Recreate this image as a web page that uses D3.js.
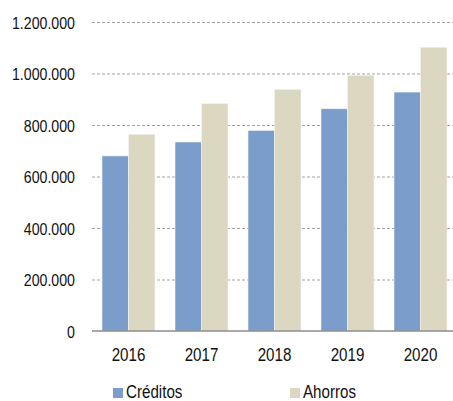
<!DOCTYPE html>
<html>
<head>
<meta charset="utf-8">
<script src="https://cdn.jsdelivr.net/npm/d3@7"></script>
<style>
  html, body { margin: 0; padding: 0; background: #fff; }
  svg { display: block; }
  text { font-family: "Liberation Sans", Arial, sans-serif; fill: #111; }
</style>
</head>
<body>
<svg id="chart" width="453" height="401"></svg>
<script>
// Annual totals per product
const years = ["2016", "2017", "2018", "2019", "2020"];
const seriesNames = ["Créditos", "Ahorros"];
const creditos = [680000, 734000, 779000, 863000, 928000];
const ahorros = [764000, 883000, 938000, 993000, 1102000];
const yTicks = [0, 200000, 400000, 600000, 800000, 1000000, 1200000];

const colors = { "Créditos": "#7b9dcb", "Ahorros": "#dcd7c1" };
const narrow = 0.82; // horizontal squeeze for a condensed look

const rows = years.map((y, i) => ({ year: y, "Créditos": creditos[i], "Ahorros": ahorros[i] }));

const svg = d3.select("#chart");
const plotLeft = 92, plotRight = 457, plotTop = 22, plotBottom = 331;

const x = d3.scaleBand().domain(years).range([plotLeft, plotRight])
  .paddingInner(20 / 73).paddingOuter(10 / 73);
const xs = d3.scaleBand().domain(seriesNames).range([0, x.bandwidth()]).padding(0);
const y = d3.scaleLinear().domain([0, 1200000]).range([plotBottom, plotTop]);

const es = d3.formatLocale({ decimal: ",", thousands: ".", grouping: [3], currency: ["", ""] });
const fmt = es.format(",d");

// Dashed horizontal gridlines and value labels
const yAxis = svg.append("g")
  .attr("transform", `translate(${plotLeft},0)`)
  .call(d3.axisLeft(y).tickValues(yTicks).tickFormat(fmt)
    .tickSize(-(453 - plotLeft)).tickPadding(0));
yAxis.select(".domain").remove();
yAxis.selectAll(".tick line")
  .attr("stroke", "#a3a3a3").attr("stroke-width", 1)
  .attr("stroke-dasharray", "3,2")
  .filter(d => d === 0).remove();
yAxis.selectAll(".tick text")
  .attr("x", -17 / narrow).attr("dy", "0.36em")
  .attr("transform", `scale(${narrow},1)`)
  .style("font-size", "17.3px").attr("fill", "#111");

// Bars
const groups = svg.append("g").selectAll("g").data(rows).join("g")
  .attr("transform", d => `translate(${x(d.year)},0)`);
groups.selectAll("rect")
  .data(d => seriesNames.map(k => ({ key: k, value: d[k] })))
  .join("rect")
  .attr("x", d => xs(d.key))
  .attr("width", xs.bandwidth())
  .attr("y", d => y(d.value))
  .attr("height", d => y(0) - y(d.value))
  .attr("fill", d => colors[d.key])
  .attr("stroke", "#f4f4f0").attr("stroke-width", 0.6);

// Baseline and year labels
const xAxis = svg.append("g")
  .attr("transform", `translate(0,${plotBottom})`)
  .call(d3.axisBottom(x).tickSize(0).tickPadding(0));
xAxis.select(".domain").remove();
svg.append("line")
  .attr("x1", plotLeft).attr("x2", 453)
  .attr("y1", y(0)).attr("y2", y(0))
  .attr("stroke", "#8c8c8c").attr("stroke-width", 1.5);
xAxis.selectAll(".tick text")
  .attr("y", 30).attr("dy", 0)
  .attr("transform", `scale(${narrow},1)`)
  .attr("x", 0)
  .style("font-size", "18.5px").attr("fill", "#111");

// Legend
const legendX = [113, 290];
const legend = svg.append("g").selectAll("g").data(seriesNames).join("g")
  .attr("transform", (d, i) => `translate(${legendX[i]},388)`);
legend.append("rect")
  .attr("width", 10).attr("height", 10)
  .attr("fill", d => colors[d]);
legend.append("text")
  .attr("x", 13 / narrow).attr("y", 9.6)
  .attr("transform", `scale(${narrow},1)`)
  .style("font-size", "18.5px")
  .text(d => d);
</script>
</body>
</html>
